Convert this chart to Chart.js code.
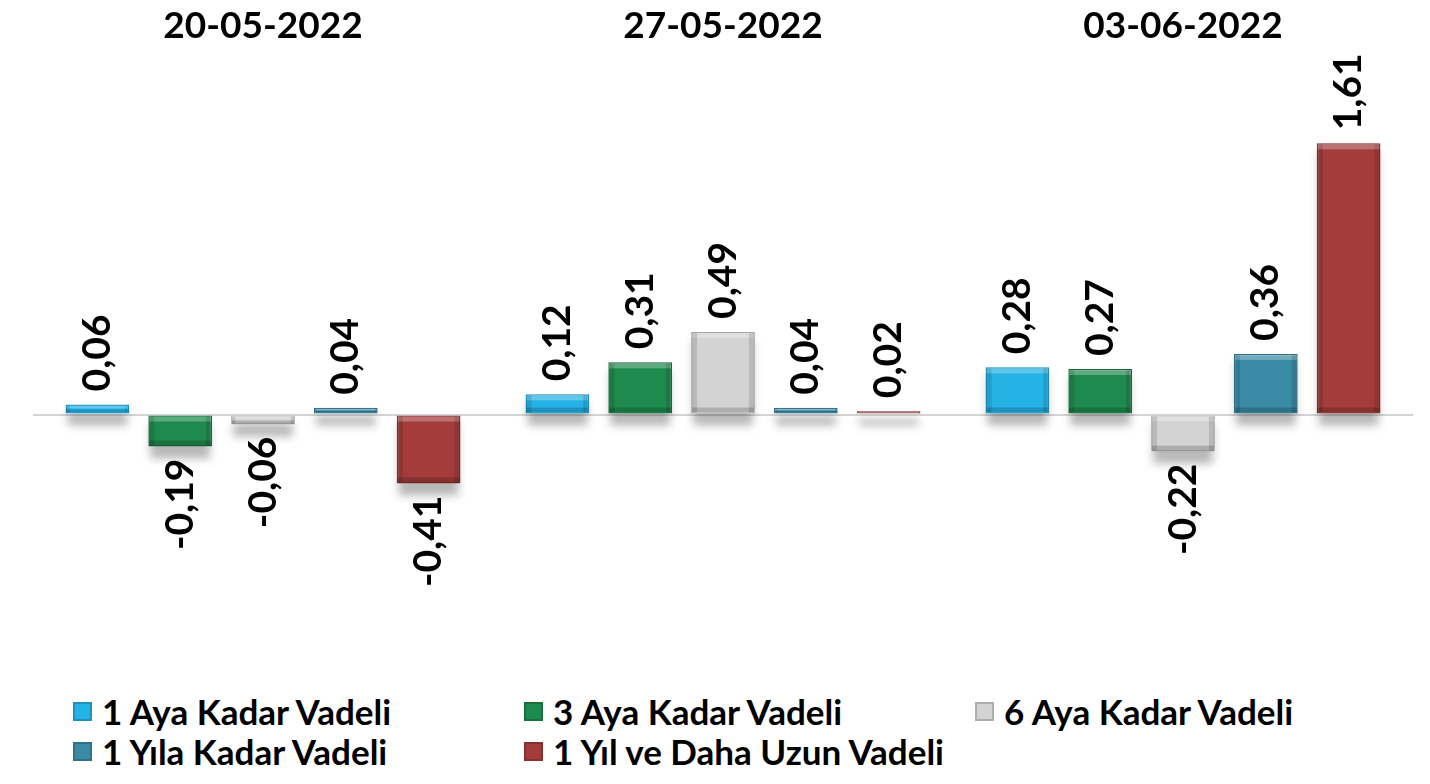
<!DOCTYPE html>
<html lang="tr">
<head>
    <meta charset="UTF-8">
    <title>Vadeli Mevduat Değişimi</title>
    <style>
        body {
            margin: 0;
            background: #ffffff;
            font-family: Lato, "Open Sans", sans-serif;
        }
        .wrap {
            position: relative;
            width: 1430px;
            height: 784px;
        }
        .chart-box {
            position: absolute;
            left: 0;
            top: 0;
            width: 1430px;
            height: 620px;
        }
        .legend {
            position: absolute;
            left: 73px;
            top: 690px;
            width: 1360px;
        }
        .legend-item {
            position: absolute;
            display: flex;
            align-items: center;
            font-size: 35px;
            font-weight: bold;
            color: #000;
            white-space: nowrap;
        }
        .legend-box {
            width: 19px;
            height: 19px;
            margin-right: 10px;
            box-shadow: inset 0 0 0 2px rgba(0,0,0,0.18);
        }
    </style>
    <script src="https://cdn.jsdelivr.net/npm/chart.js@4/dist/chart.umd.min.js"></script>
</head>
<body>
<div class="wrap">
    <div class="chart-box"><canvas id="chart"></canvas></div>
    <div class="legend" id="legend"></div>
</div>

<script>
    // tarih grupları
    const dates = ['20-05-2022', '27-05-2022', '03-06-2022'];

    const seriesNames = [
        '1 Aya Kadar Vadeli',
        '3 Aya Kadar Vadeli',
        '6 Aya Kadar Vadeli',
        '1 Yıla Kadar Vadeli',
        '1 Yıl ve Daha Uzun Vadeli'
    ];

    const aya1 = [0.06, 0.12, 0.28];
    const aya3 = [-0.19, 0.31, 0.27];
    const aya6 = [-0.06, 0.49, -0.22];
    const yila1 = [0.04, 0.04, 0.36];
    const yilUzun = [-0.41, 0.02, 1.61];

    const seriesColors = ['#25b3e6', '#1f8a4d', '#d3d3d3', '#3a8ba6', '#a33c3b'];
    const borderColors = ['#1a8fbb', '#16683a', '#a8a8a8', '#2c6c82', '#7d2b2a'];

    const allValues = [aya1, aya3, aya6, yila1, yilUzun];

    // legend: 3 sütun
    const legendEl = document.getElementById('legend');
    seriesNames.forEach((name, i) => {
        const item = document.createElement('div');
        item.className = 'legend-item';
        item.style.left = (i % 3) * 451 + 'px';
        item.style.top = Math.floor(i / 3) * 40 + 'px';
        const box = document.createElement('span');
        box.className = 'legend-box';
        box.style.background = seriesColors[i];
        item.appendChild(box);
        item.appendChild(document.createTextNode(name));
        legendEl.appendChild(item);
    });

    function barRect(bar) {
        const half = bar.width / 2;
        return {
            left: bar.x - half,
            right: bar.x + half,
            top: Math.min(bar.y, bar.base),
            bottom: Math.max(bar.y, bar.base)
        };
    }

    // gölge + kabartma
    const bevelPlugin = {
        id: 'bevel',
        beforeDatasetsDraw(chart) {
            const ctx = chart.ctx;
            ctx.save();
            ctx.filter = 'blur(4px)';
            ctx.fillStyle = 'rgba(0,0,0,0.28)';
            chart.data.datasets.forEach((ds, di) => {
                chart.getDatasetMeta(di).data.forEach(bar => {
                    const r = barRect(bar);
                    ctx.fillRect(r.left + 2, r.top + 8, r.right - r.left - 4, r.bottom - r.top + 4);
                });
            });
            ctx.restore();
        },
        afterDatasetsDraw(chart) {
            const ctx = chart.ctx;
            ctx.save();
            chart.data.datasets.forEach((ds, di) => {
                chart.getDatasetMeta(di).data.forEach(bar => {
                    const r = barRect(bar);
                    const w = r.right - r.left;
                    const h = r.bottom - r.top;
                    const e = Math.min(5, h / 3);
                    ctx.fillStyle = 'rgba(255,255,255,0.28)';
                    ctx.fillRect(r.left + 1, r.top + 1, w - 2, e);
                    ctx.fillStyle = 'rgba(0,0,0,0.12)';
                    ctx.fillRect(r.left + 1, r.top + 1, e, h - 2);
                    ctx.fillRect(r.right - 1 - e, r.top + 1, e, h - 2);
                    ctx.fillStyle = 'rgba(0,0,0,0.18)';
                    ctx.fillRect(r.left + 1, r.bottom - 1 - e, w - 2, e);
                });
            });
            ctx.restore();
        }
    };

    // dikey değer etiketleri
    const labelPlugin = {
        id: 'valueLabels',
        afterDatasetsDraw(chart) {
            const ctx = chart.ctx;
            ctx.save();
            ctx.font = 'bold 39px Lato, sans-serif';
            ctx.fillStyle = '#000';
            ctx.textBaseline = 'middle';
            chart.data.datasets.forEach((ds, di) => {
                const meta = chart.getDatasetMeta(di);
                meta.data.forEach((bar, i) => {
                    const v = ds.data[i];
                    const txt = v.toFixed(2).replace('.', ',');
                    ctx.save();
                    if (v >= 0) {
                        ctx.translate(bar.x, Math.min(bar.y, bar.base) - 13);
                        ctx.rotate(-Math.PI / 2);
                        ctx.textAlign = 'left';
                    } else {
                        ctx.translate(bar.x, Math.max(bar.y, bar.base) + 12);
                        ctx.rotate(-Math.PI / 2);
                        ctx.textAlign = 'right';
                    }
                    ctx.fillText(txt, 0, 0);
                    ctx.restore();
                });
            });
            ctx.restore();
        }
    };

    new Chart(document.getElementById('chart'), {
        type: 'bar',
        data: {
            labels: dates,
            datasets: seriesNames.map((name, i) => ({
                label: name,
                data: allValues[i],
                backgroundColor: seriesColors[i],
                borderColor: borderColors[i],
                borderWidth: 1.5,
                categoryPercentage: 0.9,
                barPercentage: 0.77
            }))
        },
        options: {
            responsive: true,
            maintainAspectRatio: false,
            animation: false,
            layout: {
                padding: { left: 33, right: 17, top: 0, bottom: 0 }
            },
            plugins: {
                legend: { display: false },
                tooltip: { enabled: false }
            },
            scales: {
                x: {
                    position: 'top',
                    grid: { display: false, drawTicks: false },
                    border: { display: false },
                    ticks: {
                        color: '#000',
                        padding: 4,
                        font: { family: 'Lato', size: 37, weight: 'bold' }
                    }
                },
                y: {
                    min: -1.22,
                    max: 2.15,
                    afterFit(scale) { scale.width = 0; },
                    ticks: { display: false, stepSize: 0.01 },
                    border: { display: false },
                    grid: {
                        drawTicks: false,
                        lineWidth: 2,
                        color: c => Math.abs(c.tick.value) < 1e-9 ? '#d4d4d4' : 'rgba(0,0,0,0)'
                    }
                }
            }
        },
        plugins: [bevelPlugin, labelPlugin]
    });
</script>
</body>
</html>
